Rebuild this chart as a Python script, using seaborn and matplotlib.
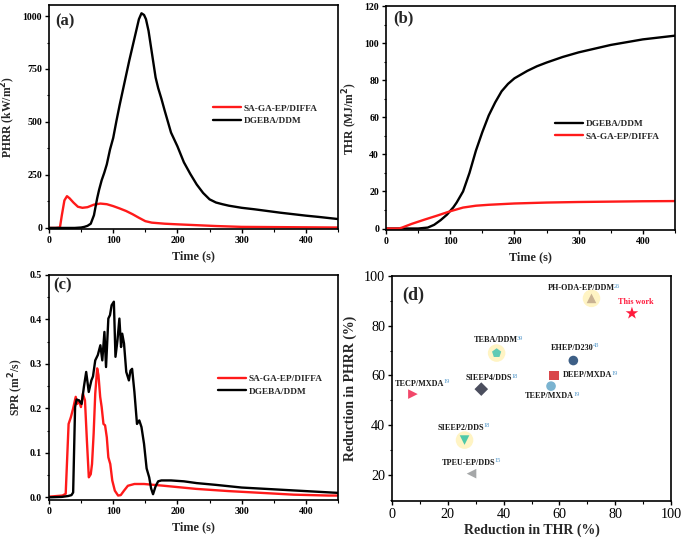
import numpy as np
import pandas as pd
import matplotlib
matplotlib.use("Agg")
import matplotlib.pyplot as plt
from matplotlib.ticker import AutoMinorLocator, FormatStrFormatter
import seaborn as sns

# ---- (a) PHRR curves ----
phrr_ddm_t = [0, 20, 40, 50, 55, 60, 65, 70, 75, 78, 82, 86, 90, 95, 100, 105, 110, 115, 120, 125,
              130, 135, 140, 144, 148, 151, 155, 158, 162, 166, 170, 175, 180, 190, 200, 210, 220,
              230, 240, 250, 260, 270, 280, 300, 320, 340, 360, 380, 400, 420, 450]
phrr_ddm_v = [0, 0, 0, 2, 5, 10, 20, 60, 140, 180, 225, 260, 300, 370, 425, 505, 580, 650, 720, 790,
              855, 920, 985, 1013, 1005, 985, 930, 870, 790, 710, 660, 610, 555, 450, 385, 310, 255,
              205, 165, 135, 120, 112, 105, 95, 88, 80, 72, 65, 58, 52, 42]
phrr_diffa_t = [0, 10, 17, 20, 24, 28, 32, 38, 45, 52, 60, 70, 80, 90, 100, 110, 120, 130, 140, 150,
                160, 180, 200, 230, 260, 300, 350, 400, 450]
phrr_diffa_v = [0, 0, 2, 60, 130, 150, 140, 120, 100, 95, 98, 110, 115, 112, 103, 92, 80, 65, 48, 32,
                25, 20, 17, 13, 9, 5, 4, 3, 2]

# ---- (b) THR curves ----
thr_ddm_t = [0, 50, 65, 75, 85, 95, 100, 105, 110, 120, 130, 140, 150, 160, 170, 180, 190, 200, 210,
             220, 235, 250, 275, 300, 325, 350, 375, 400, 425, 450]
thr_ddm_v = [0, 0, 0.5, 2, 4.5, 7.5, 9.5, 11.5, 14, 20, 30, 42, 52, 61, 68, 74, 78, 81, 83,
             85, 87.5, 89.5, 92.5, 95, 97, 99, 100.5, 102, 103, 104]
thr_diffa_t = [0, 20, 25, 40, 60, 80, 100, 120, 140, 160, 200, 250, 300, 350, 400, 450]
thr_diffa_v = [0, 0, 0.5, 2.5, 4.8, 7, 9.3, 11.3, 12.3, 12.8, 13.5, 14, 14.3, 14.5, 14.7, 14.8]

# ---- (c) SPR curves ----
spr_ddm_t = [0, 20, 30, 35, 37.6, 40.6, 43, 46.7, 50.8, 54.3, 57.9, 61.9, 66, 68.5, 72, 76, 80, 83,
             86.3, 88.8, 92.4, 95, 97.5, 101, 103.5, 106.6, 109.6, 112.2, 114, 116.8, 120.3, 124.4,
             126.9, 129.4, 133, 137, 140.6, 144, 148, 152, 156, 159, 162, 166, 170, 175, 190, 210,
             230, 260, 300, 350, 400, 450]
spr_ddm_v = [0, 0.001, 0.003, 0.005, 0.011, 0.203, 0.22, 0.218, 0.21, 0.248, 0.282, 0.237, 0.263, 0.272,
             0.308, 0.32, 0.342, 0.308, 0.372, 0.293, 0.402, 0.41, 0.432, 0.44, 0.316, 0.353, 0.402,
             0.338, 0.368, 0.346, 0.282, 0.263, 0.285, 0.289, 0.237, 0.165, 0.173, 0.158, 0.12, 0.065,
             0.045, 0.02, 0.007, 0.025, 0.036, 0.038, 0.038, 0.036, 0.032, 0.028, 0.022, 0.018, 0.014, 0.01]
spr_diffa_t = [0, 21, 26, 30.5, 34, 37.6, 41.6, 44, 46.7, 49.7, 52.8, 56, 59, 62, 65, 67, 69.5, 72, 75,
               77, 79.7, 82, 84.8, 87.3, 90, 92.4, 95.4, 98.5, 102.5, 107.6, 111.7, 116.8, 122.8, 133,
               148, 179, 229, 280, 331, 381, 435, 450]
spr_diffa_v = [0.0015, 0.004, 0.008, 0.165, 0.18, 0.2, 0.226, 0.21, 0.218, 0.203, 0.233, 0.218, 0.128,
               0.045, 0.052, 0.075, 0.143, 0.233, 0.29, 0.275, 0.226, 0.203, 0.165, 0.162, 0.135, 0.09,
               0.075, 0.038, 0.015, 0.004, 0.005, 0.015, 0.026, 0.03, 0.03, 0.026, 0.019, 0.014, 0.01,
               0.006, 0.004, 0.004]

# ---- (d) literature comparison ----
systems = ["TECP/MXDA", "SIEEP4/DDS", "TEBA/DDM", "SIEEP2/DDS", "TPEU-EP/DDS", "EHEP/D230",
           "DEEP/MXDA", "TEEP/MXDA", "PH-ODA-EP/DDM", "This work"]
refs = ["19", "18", "39", "18", "15", "43", "19", "19", "26", ""]
thr_red = [7.5, 32, 37.5, 26, 28.5, 65, 58, 57, 71.5, 86]
phrr_red = [52.5, 54.5, 69, 34, 20.5, 66, 60, 55.7, 91, 85]
label_x = [1.1, 26.5, 29.3, 16.5, 17.8, 57, 61.3, 47.7, 55.9, 81]
label_y = [56.7, 58.8, 74.2, 39, 24.9, 71.2, 60, 51.6, 95, 89.4]
point_colors = ["#f2476a", "#4b4e5e", "#5fcab5", "#4fc9a8", "#a5a7a8", "#3d5f86",
                "#d9484c", "#7ab3d0", "#c9b292", "#ff1a3c"]
point_markers = [">", "D", "p", "v", "<", "o", "s", "o", "^", "*"]
halo = ["TEBA/DDM", "SIEEP2/DDS", "PH-ODA-EP/DDM"]

sns.set_theme(style="ticks")
plt.rcParams["font.family"] = ["Liberation Serif", "DejaVu Serif"]
plt.rcParams["font.weight"] = "bold"
plt.rcParams["axes.labelweight"] = "bold"
plt.rcParams["axes.linewidth"] = 1.2
plt.rcParams["axes.edgecolor"] = "black"
for a in ["xtick", "ytick"]:
    plt.rcParams[a + ".direction"] = "out"
    plt.rcParams[a + ".major.size"] = 3
    plt.rcParams[a + ".minor.size"] = 1.8
    plt.rcParams[a + ".major.width"] = 1.0
    plt.rcParams[a + ".minor.width"] = 0.8
    plt.rcParams[a + ".color"] = "black"

W, H = 685, 542
fig = plt.figure(figsize=(W / 100, H / 100), dpi=100)


def box(l, r, t, b):
    return [l / W, (H - b) / H, (r - l) / W, (b - t) / H]


ax_a = fig.add_axes(box(49, 338, 5, 229))
ax_b = fig.add_axes(box(386, 675, 6, 230))
ax_c = fig.add_axes(box(49, 338, 275, 500))
ax_d = fig.add_axes(box(392, 671, 276, 501))

RED, BLACK = "#ff1a1a", "black"
lw = 1.7


def curve(ax, t, v, color, label):
    sns.lineplot(x=t, y=v, ax=ax, color=color, lw=lw, label=label, sort=False, estimator=None)


def style_small(ax, ylabel, ylim, yticks, fmt, tag, tag_xy, leg_xy):
    ax.set_xlim(0, 450)
    ax.set_ylim(*ylim)
    ax.set_xticks([0, 100, 200, 300, 400])
    ax.set_yticks(yticks)
    ax.yaxis.set_major_formatter(FormatStrFormatter(fmt))
    ax.xaxis.set_minor_locator(AutoMinorLocator(2))
    ax.yaxis.set_minor_locator(AutoMinorLocator(2))
    ax.tick_params(labelsize=7.1, pad=2)
    for lab in ax.get_xticklabels() + ax.get_yticklabels():
        lab.set_fontweight("bold")
    ax.set_xlabel("Time (s)", fontsize=8.8, labelpad=4)
    ax.set_ylabel(ylabel, fontsize=8.4, labelpad=3)
    ax.text(tag_xy[0], tag_xy[1], tag, transform=ax.transAxes, fontsize=12, fontweight="bold",
            va="center", ha="left")
    ax.legend(loc="center left", bbox_to_anchor=leg_xy, frameon=False, fontsize=6.7,
              handlelength=3.0, handletextpad=0.3, labelspacing=0.45, borderpad=0, borderaxespad=0)


curve(ax_a, phrr_diffa_t, phrr_diffa_v, RED, "SA-GA-EP/DIFFA")
curve(ax_a, phrr_ddm_t, phrr_ddm_v, BLACK, "DGEBA/DDM")
style_small(ax_a, "PHRR (kW/m$^\\mathbf{2}$)", (-5, 1052), [0, 250, 500, 750, 1000], "%d",
            "(a)", (0.02, 0.925), (0.567, 0.51))

curve(ax_b, thr_ddm_t, thr_ddm_v, BLACK, "DGEBA/DDM")
curve(ax_b, thr_diffa_t, thr_diffa_v, RED, "SA-GA-EP/DIFFA")
style_small(ax_b, "THR (MJ/m$^\\mathbf{2}$)", (-0.8, 120), [0, 20, 40, 60, 80, 100, 120], "%d",
            "(b)", (0.025, 0.945), (0.585, 0.446))

curve(ax_c, spr_diffa_t, spr_diffa_v, RED, "SA-GA-EP/DIFFA")
curve(ax_c, spr_ddm_t, spr_ddm_v, BLACK, "DGEBA/DDM")
style_small(ax_c, "SPR (m$^\\mathbf{2}$/s)", (-0.006, 0.5), [0, 0.1, 0.2, 0.3, 0.4, 0.5], "%.1f",
            "(c)", (0.015, 0.955), (0.585, 0.511))

# ---- panel d ----
df = pd.DataFrame({"system": systems, "thr": thr_red, "phrr": phrr_red})
hdf = df[df["system"].isin(halo)]
sns.scatterplot(data=hdf, x="thr", y="phrr", ax=ax_d, s=160, color="#fff4c4", edgecolor="none",
                legend=False, zorder=2)
sizes = {s: (90 if m == "*" else 48) for s, m in zip(systems, point_markers)}
sns.scatterplot(data=df, x="thr", y="phrr", hue="system", style="system", size="system",
                palette=dict(zip(systems, point_colors)), markers=dict(zip(systems, point_markers)),
                sizes=sizes, edgecolor="none", legend=False, ax=ax_d, zorder=3)
ax_d.set_xlim(0, 100)
ax_d.set_ylim(9.5, 100)
ax_d.set_xticks([0, 20, 40, 60, 80, 100])
ax_d.set_yticks([20, 40, 60, 80, 100])
ax_d.xaxis.set_minor_locator(AutoMinorLocator(2))
ax_d.yaxis.set_minor_locator(AutoMinorLocator(2))
ax_d.tick_params(labelsize=10.2, pad=2)
for lab in ax_d.get_xticklabels() + ax_d.get_yticklabels():
    lab.set_fontweight("normal")
ax_d.set_xlabel("Reduction in THR (%)", fontsize=10, labelpad=2)
ax_d.set_ylabel("Reduction in PHRR (%)", fontsize=10, labelpad=5)
ax_d.text(0.036, 0.916, "(d)", transform=ax_d.transAxes, fontsize=13, fontweight="bold",
          va="center", ha="left")

texts = []
for name, lx, ly in zip(systems, label_x, label_y):
    col = "#ff1a3c" if name == "This work" else "#1a1a1a"
    texts.append(ax_d.text(lx, ly, name, fontsize=5.9, fontweight="bold", color=col,
                           va="center", ha="left"))

fig.canvas.draw()
rend = fig.canvas.get_renderer()
inv = ax_d.transData.inverted()
for t_obj, ref in zip(texts, refs):
    if not ref:
        continue
    bb = t_obj.get_window_extent(rend)
    sx, sy = inv.transform((bb.x1 - 1.0, bb.y1 + 0.5))
    ax_d.text(sx, sy, ref, fontsize=4.6, fontweight="normal", color="#4f95c8", va="top", ha="left")

fig.savefig("out.png", dpi=100)
